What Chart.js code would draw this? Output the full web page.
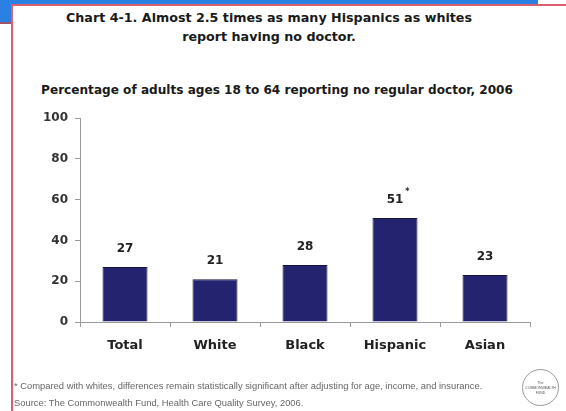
<!DOCTYPE html>
<html>
<head>
<meta charset="utf-8">
<script src="https://cdn.jsdelivr.net/npm/chart.js@4.4.1/dist/chart.umd.min.js"></script>
<style>
  html, body { margin: 0; padding: 0; background: #ffffff; }
  #wrap { position: relative; width: 566px; height: 411px; overflow: hidden; background: #fff; }
  .band-top { position: absolute; left: 0; top: 0; width: 538px; height: 4px; background: #2b80e3; }
  .band-left { position: absolute; left: 0; top: 0; width: 11px; height: 22px; background: #2b80e3; }
  .band-left-line { position: absolute; left: 0; top: 22px; width: 11px; height: 2px; background: #a0506a; }
  .frame-top { position: absolute; left: 11px; top: 4px; width: 555px; height: 2px; background: #d9606e; }
  .frame-left { position: absolute; left: 11px; top: 4px; width: 2px; height: 407px; background: #d9606e; }
  #title { position: absolute; left: 19px; width: 500px; top: 8px; text-align: center;
           font: bold 12.7px "DejaVu Sans", sans-serif; line-height: 19px; color: #1a1a1a; }
  #subtitle { position: absolute; left: 27px; width: 500px; top: 82px; text-align: center;
           font: bold 12.1px "DejaVu Sans", sans-serif; line-height: 16px; color: #1a1a1a; white-space: nowrap; }
  #notes { position: absolute; left: 14px; top: 377px; font: 9.4px "Liberation Sans", Arial, sans-serif;
           line-height: 17px; color: #666; white-space: nowrap; }
  #logo { position: absolute; left: 522px; top: 369px; width: 37px; height: 37px; border: 1px solid #999;
          border-radius: 50%; font: 3.5px "Liberation Sans", Arial, sans-serif; color: #555;
          text-align: center; line-height: 5px; box-sizing: border-box; padding-top: 11px; }
  canvas { position: absolute; left: 0; top: 0; }
</style>
</head>
<body>
<div id="wrap">
  <div class="band-top"></div>
  <div class="band-left"></div>
  <div class="band-left-line"></div>
  <div class="frame-top"></div>
  <div class="frame-left"></div>
  <div id="title">Chart 4-1. Almost 2.5 times as many Hispanics as whites<br>report having no doctor.</div>
  <div id="subtitle">Percentage of adults ages 18 to 64 reporting no regular doctor, 2006</div>
  <canvas id="c" width="566" height="411"></canvas>
  <div id="notes">* Compared with whites, differences remain statistically significant after adjusting for age, income, and insurance.<br>Source: The Commonwealth Fund, Health Care Quality Survey, 2006.</div>
  <div id="logo">The<br>COMMONWEALTH<br>FUND</div>
</div>
<script>
const categories = ["Total", "White", "Black", "Hispanic", "Asian"];
const values = [27, 21, 28, 51, 23];
const valueNotes = ["", "", "", "*", ""];
const yTickValues = [0, 20, 40, 60, 80, 100];

const valueLabelPlugin = {
  id: 'valueLabels',
  afterDatasetsDraw(chart) {
    const ctx = chart.ctx;
    const meta = chart.getDatasetMeta(0);
    ctx.save();
    meta.data.forEach((bar, i) => {
      const label = String(values[i]);
      ctx.font = 'bold 12px "DejaVu Sans", sans-serif';
      ctx.fillStyle = '#222';
      ctx.textAlign = 'center';
      ctx.textBaseline = 'middle';
      const ly = bar.y - 18;
      ctx.fillText(label, bar.x, ly);
      if (valueNotes[i]) {
        const w = ctx.measureText(label).width;
        ctx.font = 'bold 8px "DejaVu Sans", sans-serif';
        ctx.textAlign = 'left';
        ctx.fillText(valueNotes[i], bar.x + w / 2 + 2, ly - 8);
      }
    });
    ctx.restore();
  }
};

new Chart(document.getElementById('c'), {
  type: 'bar',
  data: {
    labels: categories,
    datasets: [{
      data: values,
      backgroundColor: '#23236f',
      borderColor: '#14143f',
      borderWidth: 1,
      barPercentage: 0.5,
      categoryPercentage: 1.0
    }]
  },
  options: {
    responsive: false,
    animation: false,
    devicePixelRatio: 1,
    layout: { padding: { left: 0, right: 36, top: 118, bottom: 0 } },
    plugins: { legend: { display: false }, tooltip: { enabled: false }, title: { display: false } },
    scales: {
      x: {
        afterFit(scale) { scale.height = 89; },
        grid: { display: true, drawOnChartArea: false, offset: true, tickLength: 5, color: '#999' },
        border: { display: true, color: '#999', width: 1 },
        ticks: { color: '#222', padding: 11, font: { family: '"DejaVu Sans", sans-serif', size: 13, weight: 'bold' } }
      },
      y: {
        min: 0, max: 100,
        afterFit(scale) { scale.width = 80; },
        afterBuildTicks(scale) { scale.ticks = yTickValues.map(v => ({ value: v })); },
        grid: { display: true, drawOnChartArea: false, tickLength: 5, color: '#999' },
        border: { display: true, color: '#999', width: 1 },
        ticks: { color: '#333', padding: 7, font: { family: '"DejaVu Sans", sans-serif', size: 12, weight: 'bold' } }
      }
    }
  },
  plugins: [valueLabelPlugin]
});
</script>
</body>
</html>
